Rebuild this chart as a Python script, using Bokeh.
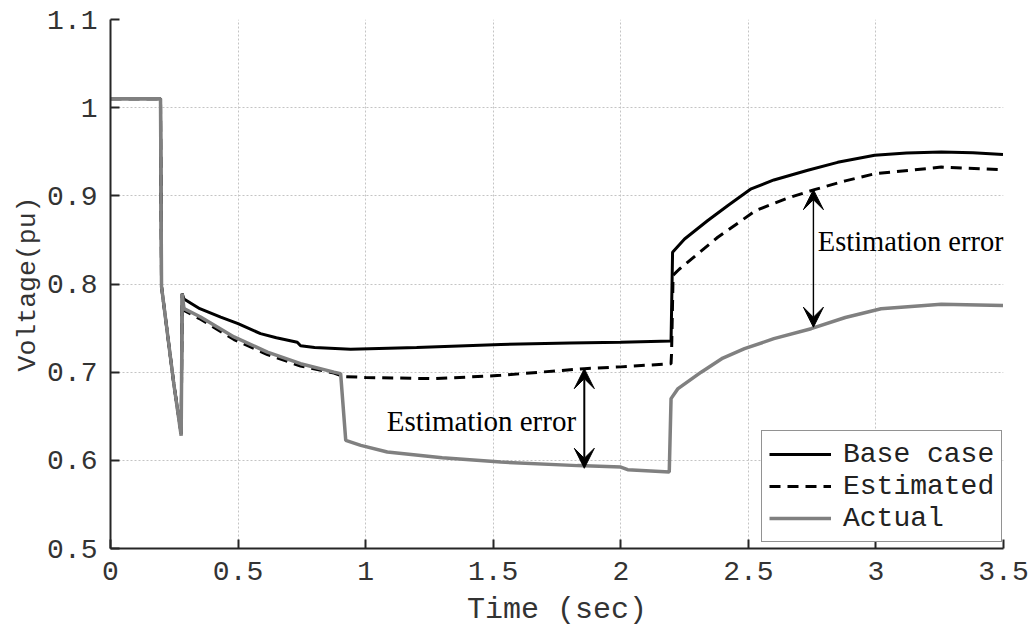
from bokeh.plotting import figure
from bokeh.models import (FixedTicker, CustomJSTickFormatter, Legend, LegendItem,
                          Arrow, VeeHead, Label, Range1d)
from bokeh.embed import file_html
from bokeh.resources import INLINE

# ---- data ----
t_base = [0, 0.196, 0.2, 0.248, 0.277, 0.281, 0.288, 0.35, 0.432, 0.5, 0.588, 0.65,
          0.732, 0.745, 0.8, 0.941, 1.2, 1.53, 1.8, 2.0, 2.197, 2.203, 2.25, 2.341,
          2.42, 2.511, 2.6, 2.733, 2.85, 2.995, 3.12, 3.256, 3.38, 3.498]
v_base = [1.01, 1.01, 0.797, 0.687, 0.630, 0.789, 0.783, 0.772, 0.7625, 0.755, 0.7437, 0.739,
          0.734, 0.730, 0.728, 0.726, 0.728, 0.7315, 0.733, 0.734, 0.7353, 0.836, 0.851, 0.872,
          0.889, 0.908, 0.918, 0.929, 0.938, 0.946, 0.9485, 0.9496, 0.949, 0.947]

t_est = [0, 0.196, 0.2, 0.248, 0.277, 0.281, 0.288, 0.353, 0.484, 0.615, 0.745, 0.876,
         0.915, 1.0, 1.27, 1.53, 1.857, 2.0, 2.197, 2.199, 2.205, 2.23, 2.38, 2.53, 2.65,
         2.759, 2.88, 2.995, 3.256, 3.498]
v_est = [1.01, 1.01, 0.797, 0.687, 0.630, 0.789, 0.770, 0.760, 0.737, 0.720, 0.707, 0.699,
         0.695, 0.694, 0.6926, 0.6964, 0.704, 0.706, 0.7096, 0.7217, 0.810, 0.817, 0.853,
         0.8835, 0.897, 0.907, 0.917, 0.925, 0.9326, 0.9296]

t_act = [0, 0.196, 0.2, 0.248, 0.277, 0.281, 0.288, 0.353, 0.484, 0.615, 0.745, 0.876,
         0.902, 0.922, 0.981, 1.085, 1.3, 1.53, 1.83, 2.0, 2.027, 2.19, 2.197, 2.223, 2.315,
         2.4, 2.485, 2.6, 2.746, 2.88, 3.02, 3.256, 3.498]
v_act = [1.01, 1.01, 0.797, 0.687, 0.628, 0.789, 0.772, 0.7625, 0.740, 0.7228, 0.7096, 0.700,
         0.6983, 0.6227, 0.617, 0.6094, 0.603, 0.598, 0.594, 0.5924, 0.5894, 0.5868, 0.670,
         0.681, 0.700, 0.716, 0.7266, 0.738, 0.7493, 0.762, 0.772, 0.777, 0.7757]

series_names = ["Base case", "Estimated", "Actual"]
x_ticks = [0, 0.5, 1, 1.5, 2, 2.5, 3, 3.5]
y_ticks = [0.5, 0.6, 0.7, 0.8, 0.9, 1.0, 1.1]

# estimation-error arrows: (time, upper value, lower value)
err1 = (1.857, 0.704, 0.591)
err2 = (2.755, 0.907, 0.751)
err_text = "Estimation error"

# ---- figure ----
p = figure(width=1032, height=629, output_backend="svg", toolbar_location=None,
           x_range=Range1d(0, 3.5), y_range=Range1d(0.5, 1.1),
           min_border_left=110, min_border_right=29, min_border_top=19,
           min_border_bottom=81)
p.outline_line_color = None
p.background_fill_color = "white"
p.border_fill_color = "white"

mono = "Liberation Mono"
fmt = CustomJSTickFormatter(code="return tick.toString();")
for ax, ticks in ((p.xaxis, x_ticks), (p.yaxis, y_ticks)):
    ax.ticker = FixedTicker(ticks=ticks)
    ax.formatter = fmt
    ax.major_tick_in = 9
    ax.major_tick_out = 0
    ax.minor_tick_line_color = None
    ax.axis_line_color = "#262626"
    ax.axis_line_width = 2
    ax.major_tick_line_color = "#262626"
    ax.major_tick_line_width = 2
    ax.major_label_text_font = mono
    ax.major_label_text_font_size = "28px"
    ax.major_label_text_color = "#333333"
    ax.axis_label_text_font = mono
    ax.axis_label_text_font_style = "normal"
    ax.axis_label_text_color = "#333333"

p.xaxis.axis_label = "Time (sec)"
p.yaxis.axis_label = "Voltage(pu)"
p.xaxis.axis_label_text_font_size = "30px"
p.yaxis.axis_label_text_font_size = "26.5px"
p.xaxis.major_label_standoff = 13
p.xaxis.axis_label_standoff = 10
p.yaxis.major_label_standoff = 13
p.yaxis.axis_label_standoff = 1

for g in (p.xgrid, p.ygrid):
    g.grid_line_color = "#c4c4c4"
    g.grid_line_dash = "2 2"
    g.grid_line_width = 1

r_base = p.line(t_base, v_base, line_color="black", line_width=3)
r_est = p.line(t_est, v_est, line_color="black", line_width=3, line_dash="11 7")
r_act = p.line(t_act, v_act, line_color="#808080", line_width=3.5)

# arrows
for (tx, top, bot), lw in ((err1, 2), (err2, 1.4)):
    p.add_layout(Arrow(x_start=tx, y_start=bot, x_end=tx, y_end=top,
                       line_color="black", line_width=lw,
                       start=VeeHead(size=20, fill_color="black", line_color="black", line_width=1),
                       end=VeeHead(size=20, fill_color="black", line_color="black", line_width=1)))

serif = "Liberation Serif"
p.add_layout(Label(x=1.083, y=0.645, text=err_text, text_font=serif,
                   text_font_size="29px", text_color="black", text_baseline="alphabetic"))
p.add_layout(Label(x=2.772, y=0.848, text=err_text, text_font=serif,
                   text_font_size="28.5px", text_color="black", text_baseline="alphabetic"))

legend = Legend(items=[LegendItem(label=series_names[0], renderers=[r_base]),
                       LegendItem(label=series_names[1], renderers=[r_est]),
                       LegendItem(label=series_names[2], renderers=[r_act])],
                location=(651, 6))
legend.label_text_font = mono
legend.label_text_font_size = "28px"
legend.label_text_color = "#222222"
legend.glyph_width = 62
legend.glyph_height = 32
legend.label_height = 32
legend.label_standoff = 12
legend.spacing = 0
legend.padding = 7
legend.margin = 0
legend.border_line_color = "#262626"
legend.border_line_width = 1.5
legend.background_fill_color = "white"
legend.background_fill_alpha = 1
p.add_layout(legend)

open("out.html", "w").write(file_html(p, INLINE))
